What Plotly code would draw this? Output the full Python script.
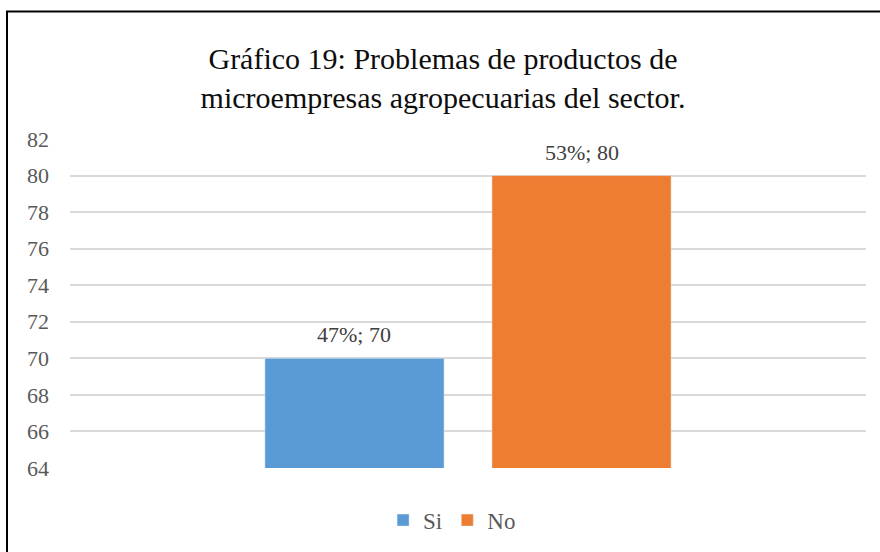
import plotly.graph_objects as go

series = ["Si", "No"]
values = [70, 80]
percents = ["47%", "53%"]
colors = ["#5B9BD5", "#ED7D31"]

FONT = "Liberation Serif, Times New Roman, serif"

fig = go.Figure()
for name, v, p, c in zip(series, values, percents, colors):
    fig.add_trace(go.Bar(
        x=[name], y=[v], name=name, marker_color=c, cliponaxis=False,
    ))
    fig.add_annotation(
        x=name, y=v, xref="x", yref="y", text=f"{p}; {v}",
        showarrow=False, yanchor="bottom", yshift=9,
        font=dict(family=FONT, size=22, color="#404040"),
    )

fig.update_layout(
    width=880, height=552,
    margin=dict(l=70, r=14, t=139, b=83),
    paper_bgcolor="white", plot_bgcolor="white",
    barmode="overlay", bargap=0.211,
    title=dict(
        text="Gráfico 19: Problemas de productos de<br>microempresas agropecuarias del sector.",
        x=443/880, xref="container", xanchor="center",
        y=1-69/552, yref="container", yanchor="middle",
        font=dict(family=FONT, size=30, color="#0D0D0D"),
    ),
    yaxis=dict(
        range=[64, 82], dtick=2, tick0=64,
        showgrid=True, gridcolor="#D9D9D9", gridwidth=1.5,
        zeroline=False, showline=False,
        tickfont=dict(family=FONT, size=22, color="#595959"),
        ticks="", ticklabelstandoff=20,
    ),
    xaxis=dict(showticklabels=False, showline=False, ticks="", showgrid=False,
               range=[-1.253, 2.253]),
    legend=dict(
        orientation="h", x=0.48, xanchor="center", y=-0.155, yanchor="middle",
        font=dict(family=FONT, size=23, color="#595959"),
        itemwidth=30, traceorder="normal",
    ),
    showlegend=True,
    shapes=[
        dict(type="line", xref="paper", yref="paper", x0=(6-70)/796, x1=1.2,
             y0=1+(139-11)/330, y1=1+(139-11)/330, line=dict(color="black", width=2)),
        dict(type="line", xref="paper", yref="paper", x0=(7-70)/796, x1=(7-70)/796,
             y0=1+(139-11)/330, y1=-0.6, line=dict(color="black", width=2)),
    ],
)

fig.write_html("out.html", config={"displayModeBar": False},
               post_script="document.body.style.margin='0';document.body.style.overflow='hidden';")
